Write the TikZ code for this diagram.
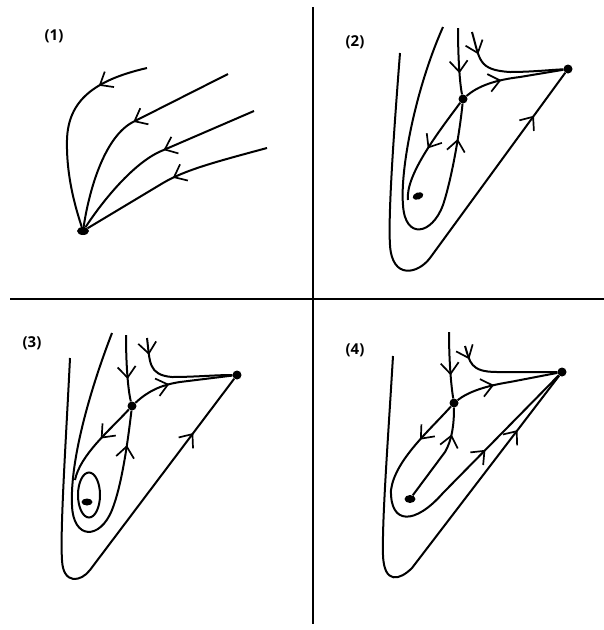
\documentclass[tikz,border=0pt]{standalone}
\usepackage{fontspec}
\setsansfont{Open Sans}
\usepackage{tikz}
\usetikzlibrary{arrows.meta, decorations.markings, shapes.geometric}
\tikzset{
    vertex/.style={circle, fill=black, inner sep=0pt, minimum size=9pt},
    blob/.style={ellipse, fill=black, inner sep=0pt, minimum width=11pt, minimum height=7pt},
    panellabel/.style={font=\sffamily\bfseries\fontsize{15}{17}\selectfont},
    orbit/.style={line width=2pt},
    arrowat/.style={postaction={decorate}, decoration={markings, mark=at position #1 with {\arrow{>}}}}
}

\begin{document}
\begin{tikzpicture}[x=1pt, y=-1pt, >={Straight Barb[length=11pt, width=18pt, line width=1.7pt]}]
            \useasboundingbox (0,0) rectangle (604,630);

            % axes
            \draw[line width=2pt] (10,299) -- (604,299);
            \draw[line width=2pt] (313,7) -- (313,624);

            % (1) a node
            \node[panellabel] (l1) at (54,36) {(1)};
            \node[blob, minimum width=12pt, minimum height=8pt] (p1) at (83,231) {};
            \draw[orbit, arrowat=0.25] (147,68) .. controls (95,80) and (68,100) .. (67,140) .. controls (66,180) and (78,215) .. (p1);
            \draw[orbit, arrowat=0.47] (228,74) -- (133,122) .. controls (106,136) and (90,185) .. (p1);
            \draw[orbit, arrowat=0.47] (254,111) -- (159,152) .. controls (130,166) and (100,205) .. (p1);
            \draw[orbit, arrowat=0.5] (267,148) .. controls (215,162) and (185,170) .. (163,183) -- (p1);

            % (2) saddle, node and focus
            \node[panellabel] (l2) at (355,42) {(2)};
            \node[vertex] (s2) at (463,99) {};
            \node[vertex] (r2) at (568,69) {};
            \node[blob, rotate=20] (f2) at (418,196) {};
            \coordinate (e2) at (408,200);
            \draw[orbit, arrowat=0.89] (400,53) .. controls (394,130) and (388,215) .. (390,245) .. controls (392,280) and (418,274) .. (430,258) -- (r2);
            \draw[orbit, arrowat=0.9] (443,27) .. controls (415,90) and (400,170) .. (403,205) .. controls (405,240) and (432,235) .. (443,205) .. controls (452,178) and (460,130) .. (s2);
            \draw[orbit, arrowat=0.68] (458,28) .. controls (458,60) and (460,85) .. (s2);
            \draw[orbit, arrowat=0.38] (s2) .. controls (478,86) and (495,80) .. (520,77) -- (r2);
            \draw[orbit, arrowat=0.5] (s2) .. controls (440,130) and (405,175) .. (e2);
            \draw[orbit, arrowat=0.2] (472,32) .. controls (480,60) and (478,70) .. (510,72) .. controls (530,72) and (550,70) .. (r2);

            % (3) centre inside a closed orbit
            \node[panellabel] (l3) at (32,343) {(3)};
            \node[vertex] (s3) at (132,406) {};
            \node[vertex] (r3) at (237,375) {};
            \node[blob] (c3) at (87,502) {};
            \node[draw, ellipse, line width=2pt, inner sep=0pt, minimum width=22pt, minimum height=45pt] (o3) at (89,495) {};
            \coordinate (e3) at (75,480);
            \draw[orbit, arrowat=0.86] (70,358) .. controls (66,440) and (60,530) .. (62,560) .. controls (63,585) and (81,582) .. (90,570) -- (r3);
            \draw[orbit, arrowat=0.9] (112,333) .. controls (90,390) and (70,460) .. (72,505) .. controls (73,540) and (100,540) .. (112,510) .. controls (122,485) and (128,440) .. (s3);
            \draw[orbit, arrowat=0.66] (126,335) .. controls (126,365) and (128,390) .. (s3);
            \draw[orbit, arrowat=0.38] (s3) .. controls (147,392) and (160,385) .. (180,382) -- (r3);
            \draw[orbit, arrowat=0.45] (s3) .. controls (110,430) and (80,455) .. (e3);
            \draw[orbit, arrowat=0.15] (147,338) .. controls (150,362) and (148,375) .. (172,377) .. controls (195,377) and (215,375) .. (r3);

            % (4) orbits join the node
            \node[panellabel] (l4) at (355,350) {(4)};
            \node[vertex] (s4) at (454,403) {};
            \node[vertex] (r4) at (562,372) {};
            \node[blob, minimum width=11pt, minimum height=8pt] (f4) at (410,499) {};
            \draw[orbit, arrowat=0.86] (393,356) .. controls (388,440) and (382,520) .. (383,555) .. controls (384,585) and (400,580) .. (412,568) -- (r4);
            \draw[orbit, postaction={decorate}, decoration={markings, mark=at position 0.13 with {\arrow{>}}, mark=at position 0.7 with {\arrow{>}}}]
                (s4) .. controls (430,430) and (395,460) .. (391,490) .. controls (390,525) and (415,525) .. (443,493) -- (r4);
            \draw[orbit, arrowat=0.73] (f4) -- (445,452) .. controls (452,440) and (454,425) .. (s4);
            \draw[orbit, arrowat=0.65] (449,332) .. controls (449,360) and (451,385) .. (s4);
            \draw[orbit, arrowat=0.38] (s4) .. controls (468,392) and (485,386) .. (510,382) -- (r4);
            \draw[orbit, arrowat=0.13] (465,346) .. controls (470,362) and (470,372) .. (497,372) .. controls (520,372) and (540,372) .. (r4);
        \end{tikzpicture}
\end{document}
